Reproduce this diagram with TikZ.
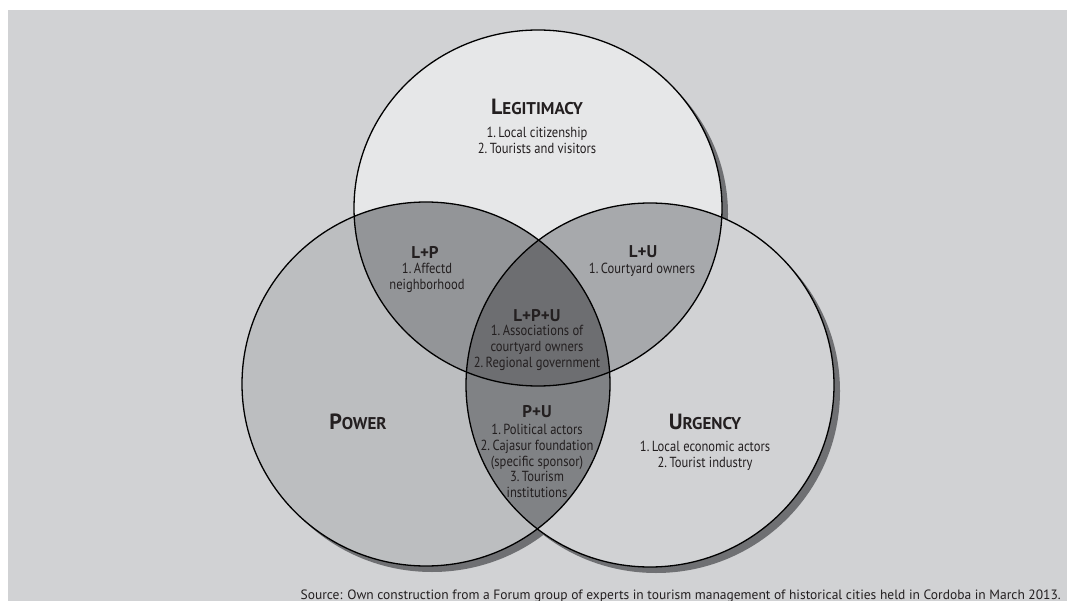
\documentclass[tikz,border=0pt]{standalone}
\usepackage{fontspec}
\setmainfont{PT Sans}[FakeStretch=0.86]
\newfontfamily\srcfont{PT Sans}
\definecolor{bgc}{HTML}{D1D2D4}
\definecolor{lcol}{HTML}{E6E7E8}
\definecolor{pcol}{HTML}{BCBEC0}
\definecolor{ucol}{HTML}{D1D2D4}
\definecolor{lpcol}{HTML}{939598}
\definecolor{lucol}{HTML}{A7A9AC}
\definecolor{pucol}{HTML}{808285}
\definecolor{lpucol}{HTML}{6D6E71}
\definecolor{shcol}{HTML}{6F7073}
\definecolor{txt}{HTML}{231F20}
\newcommand\capsc[2]{{\fontsize{22}{22}\selectfont #1}{\fontsize{17}{17}\selectfont #2}}
\tikzset{
  ringL/.style={insert path={([shift={(#1,#1)}]cL) ellipse [x radius=184pt, y radius=178pt]}},
  ringL/.default=0,
  ringP/.style={insert path={([shift={(#1,#1)}]cP) ellipse [x radius=184pt, y radius=182pt]}},
  ringP/.default=0,
  ringU/.style={insert path={([shift={(#1,#1)}]cU) ellipse [x radius=184pt, y radius=182pt]}},
  ringU/.default=0,
  outline/.style={draw=black, line width=1.3pt},
  head/.style={text=txt, font=\srcfont\bfseries, inner sep=0pt},
  pair/.style={text=txt, font=\srcfont\bfseries\fontsize{17}{17}\selectfont, inner sep=0pt},
  list/.style={text=txt, align=center, font=\fontsize{14.6}{15.8}\selectfont, inner sep=0pt},
}
\begin{document}
\begin{tikzpicture}[x=1pt,y=-1pt]
\useasboundingbox (0,0) rectangle (1067,601);
\fill[white] (0,0) rectangle (1067,601);
\fill[bgc] (8,10) rectangle (1067,601);
\coordinate (cL) at (538,208);
\coordinate (cP) at (426,384);
\coordinate (cU) at (650,385);
% shadows
\fill[shcol, ringL=6];
\fill[shcol, ringP=6];
\fill[shcol, ringU=6];
% fills
\fill[lcol, ringL];
\fill[pcol, ringP];
\fill[ucol, ringU];
\begin{scope}
  \clip[ringL];
  \fill[lpcol, ringP];
  \fill[lucol, ringU];
\end{scope}
\begin{scope}
  \clip[ringP];
  \fill[pucol, ringU];
\end{scope}
\begin{scope}
  \clip[ringL];
  \clip[ringP];
  \fill[lpucol, ringU];
\end{scope}
% outlines
\path[outline, ringL];
\path[outline, ringP];
\path[outline, ringU];
% texts
\node[head] (hL) at (537,107) {\capsc{L}{EGITIMACY}};
\node[list] (tL) at (537,140.5) {1.\,Local citizenship\\2.\,Tourists and visitors};
\node[pair] (hLP) at (425,252) {L+P};
\node[list] (tLP) at (427,278) {1.\,Affectd\\neighborhood};
\node[pair] (hLU) at (643,252) {L+U};
\node[list] (tLU) at (642,270) {1.\,Courtyard owners};
\node[pair] (hLPU) at (537,316) {L+P+U};
\node[list] (tLPU) at (537,348) {1.\,Associations of\\courtyard owners\\2.\,Regional government};
\node[head] (hP) at (358,422) {\capsc{P}{OWER}};
\node[pair] (hPU) at (537,412) {P+U};
\node[list] (tPU) at (537,461) {1.\,Political actors\\2.\,Cajasur foundation\\(specific sponsor)\\3.\,Tourism\\institutions};
\node[head] (hU) at (705,422) {\capsc{U}{RGENCY}};
\node[list] (tU) at (705,455.5) {1.\,Local economic actors\\2.\,Tourist industry};
\node[text=txt, anchor=base east, inner sep=0pt, font=\srcfont\fontsize{13.5}{14}\selectfont] (src) at (1061,599) {Source: Own construction from a Forum group of experts in tourism management of historical cities held in Cordoba in March 2013.};
\end{tikzpicture}
\end{document}
